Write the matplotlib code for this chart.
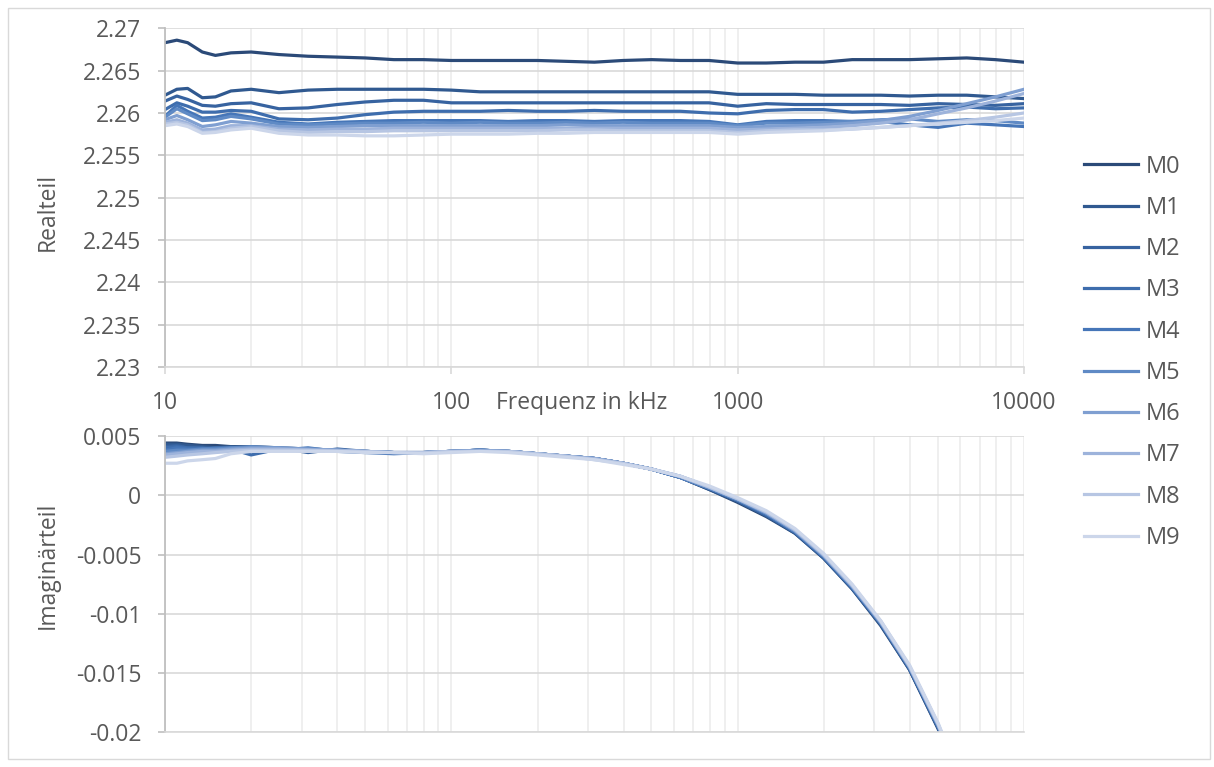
import numpy as np
import matplotlib
matplotlib.use('Agg')
import matplotlib.pyplot as plt
from matplotlib.patches import Rectangle
from matplotlib.ticker import FixedLocator, NullFormatter

plt.rcParams['font.family'] = ['Open Sans', 'DejaVu Sans']
plt.rcParams['axes.unicode_minus'] = False

# frequency points in kHz
freq = [10, 11, 12, 13.5, 15, 17, 20, 25, 31.6, 40, 50, 63, 80, 100, 126, 158, 200,
        251, 316, 398, 501, 631, 794, 1000, 1259, 1585, 1995, 2512, 3162, 3981,
        5012, 6310, 7943, 10000]

names = ['M0', 'M1', 'M2', 'M3', 'M4', 'M5', 'M6', 'M7', 'M8', 'M9']

# real part, one list per measurement
re_m0 = [2.2683, 2.2686, 2.2683, 2.2672, 2.2668, 2.2671, 2.2672, 2.2669, 2.2667, 2.2666, 2.2665, 2.2663,
         2.2663, 2.2662, 2.2662, 2.2662, 2.2662, 2.2661, 2.2660, 2.2662, 2.2663, 2.2662, 2.2662, 2.2659,
         2.2659, 2.2660, 2.2660, 2.2663, 2.2663, 2.2663, 2.2664, 2.2665, 2.2663, 2.2660]
re_m1 = [2.2621, 2.2628, 2.2629, 2.2618, 2.2619, 2.2626, 2.2628, 2.2624, 2.2627, 2.2628, 2.2628, 2.2628,
         2.2628, 2.2627, 2.2625, 2.2625, 2.2625, 2.2625, 2.2625, 2.2625, 2.2625, 2.2625, 2.2625, 2.2622,
         2.2622, 2.2622, 2.2621, 2.2621, 2.2621, 2.2620, 2.2621, 2.2621, 2.2619, 2.2617]
re_m2 = [2.2614, 2.2620, 2.2616, 2.2609, 2.2608, 2.2611, 2.2612, 2.2605, 2.2606, 2.2610, 2.2613, 2.2615,
         2.2615, 2.2612, 2.2612, 2.2612, 2.2612, 2.2612, 2.2612, 2.2612, 2.2612, 2.2612, 2.2612, 2.2608,
         2.2611, 2.2610, 2.2610, 2.2610, 2.2610, 2.2609, 2.2611, 2.2610, 2.2609, 2.2611]
re_m3 = [2.2604, 2.2612, 2.2608, 2.2601, 2.2601, 2.2603, 2.2602, 2.2593, 2.2592, 2.2594, 2.2598, 2.2601,
         2.2602, 2.2602, 2.2602, 2.2603, 2.2602, 2.2602, 2.2603, 2.2602, 2.2602, 2.2602, 2.2600, 2.2599,
         2.2603, 2.2604, 2.2604, 2.2601, 2.2602, 2.2604, 2.2606, 2.2607, 2.2605, 2.2606]
re_m4 = [2.2596, 2.2609, 2.2602, 2.2594, 2.2595, 2.2599, 2.2595, 2.2589, 2.2587, 2.2589, 2.2590, 2.2591,
         2.2591, 2.2591, 2.2591, 2.2590, 2.2591, 2.2591, 2.2590, 2.2591, 2.2591, 2.2591, 2.2590, 2.2586,
         2.2590, 2.2591, 2.2591, 2.2590, 2.2590, 2.2586, 2.2583, 2.2588, 2.2586, 2.2584]
re_m5 = [2.2595, 2.2605, 2.2599, 2.2591, 2.2592, 2.2596, 2.2593, 2.2587, 2.2586, 2.2587, 2.2588, 2.2588,
         2.2589, 2.2588, 2.2589, 2.2588, 2.2588, 2.2589, 2.2588, 2.2589, 2.2588, 2.2588, 2.2588, 2.2585,
         2.2588, 2.2588, 2.2589, 2.2590, 2.2592, 2.2593, 2.2590, 2.2592, 2.2591, 2.2588]
re_m6 = [2.2592, 2.2597, 2.2592, 2.2584, 2.2586, 2.2590, 2.2588, 2.2584, 2.2583, 2.2584, 2.2585, 2.2585,
         2.2585, 2.2585, 2.2585, 2.2585, 2.2585, 2.2586, 2.2585, 2.2585, 2.2585, 2.2585, 2.2585, 2.2583,
         2.2584, 2.2585, 2.2586, 2.2588, 2.2591, 2.2596, 2.2603, 2.2611, 2.2619, 2.2628]
re_m7 = [2.2589, 2.2592, 2.2588, 2.2580, 2.2581, 2.2585, 2.2585, 2.2581, 2.2580, 2.2581, 2.2581, 2.2582,
         2.2582, 2.2582, 2.2582, 2.2582, 2.2582, 2.2582, 2.2582, 2.2582, 2.2582, 2.2582, 2.2582, 2.2580,
         2.2581, 2.2582, 2.2583, 2.2585, 2.2588, 2.2592, 2.2599, 2.2606, 2.2614, 2.2623]
re_m8 = [2.2587, 2.2589, 2.2586, 2.2577, 2.2578, 2.2582, 2.2584, 2.2579, 2.2577, 2.2578, 2.2578, 2.2579,
         2.2579, 2.2579, 2.2579, 2.2579, 2.2579, 2.2580, 2.2580, 2.2579, 2.2579, 2.2579, 2.2579, 2.2577,
         2.2579, 2.2580, 2.2580, 2.2581, 2.2583, 2.2585, 2.2588, 2.2591, 2.2595, 2.2600]
re_m9 = [2.2585, 2.2587, 2.2584, 2.2576, 2.2577, 2.2580, 2.2582, 2.2576, 2.2574, 2.2574, 2.2573, 2.2573,
         2.2574, 2.2575, 2.2575, 2.2575, 2.2576, 2.2576, 2.2577, 2.2577, 2.2577, 2.2577, 2.2577, 2.2575,
         2.2577, 2.2578, 2.2579, 2.2581, 2.2583, 2.2585, 2.2587, 2.2589, 2.2591, 2.2594]

# imaginary part
im_m0 = [0.0044, 0.0044, 0.0043, 0.0042, 0.0042, 0.0041, 0.0041, 0.0040, 0.0039, 0.0038, 0.0037, 0.0036,
         0.0036, 0.0037, 0.0038, 0.0037, 0.0035, 0.0033, 0.0031, 0.0027, 0.0022, 0.0015, 0.0005, -0.0006,
         -0.0018, -0.0032, -0.0053, -0.0079, -0.0110, -0.0147, -0.0197, -0.0257, -0.0322, -0.0397]
im_m1 = [0.0043, 0.0043, 0.0042, 0.0041, 0.0040, 0.0041, 0.0040, 0.0039, 0.0038, 0.0038, 0.0037, 0.0036,
         0.0036, 0.0037, 0.0038, 0.0037, 0.0035, 0.0033, 0.0031, 0.0027, 0.0022, 0.0015, 0.0005, -0.0005,
         -0.0017, -0.0032, -0.0053, -0.0079, -0.0109, -0.0147, -0.0196, -0.0256, -0.0321, -0.0396]
im_m2 = [0.0041, 0.0042, 0.0040, 0.0039, 0.0037, 0.0040, 0.0039, 0.0040, 0.0036, 0.0039, 0.0037, 0.0036,
         0.0036, 0.0037, 0.0038, 0.0037, 0.0035, 0.0033, 0.0031, 0.0027, 0.0022, 0.0015, 0.0006, -0.0005,
         -0.0017, -0.0031, -0.0052, -0.0078, -0.0109, -0.0146, -0.0196, -0.0256, -0.0321, -0.0396]
im_m3 = [0.0040, 0.0041, 0.0040, 0.0040, 0.0039, 0.0039, 0.0034, 0.0039, 0.0038, 0.0038, 0.0037, 0.0036,
         0.0036, 0.0037, 0.0038, 0.0037, 0.0035, 0.0033, 0.0031, 0.0027, 0.0022, 0.0015, 0.0006, -0.0004,
         -0.0016, -0.0031, -0.0052, -0.0078, -0.0108, -0.0146, -0.0195, -0.0255, -0.0320, -0.0395]
im_m4 = [0.0038, 0.0040, 0.0039, 0.0039, 0.0040, 0.0040, 0.0039, 0.0038, 0.0040, 0.0037, 0.0036, 0.0035,
         0.0036, 0.0037, 0.0038, 0.0037, 0.0035, 0.0033, 0.0031, 0.0027, 0.0022, 0.0015, 0.0006, -0.0004,
         -0.0016, -0.0031, -0.0052, -0.0078, -0.0108, -0.0145, -0.0195, -0.0255, -0.0320, -0.0395]
im_m5 = [0.0037, 0.0038, 0.0038, 0.0039, 0.0039, 0.0040, 0.0041, 0.0040, 0.0039, 0.0038, 0.0037, 0.0036,
         0.0036, 0.0037, 0.0038, 0.0037, 0.0035, 0.0033, 0.0031, 0.0027, 0.0022, 0.0015, 0.0006, -0.0004,
         -0.0015, -0.0030, -0.0051, -0.0077, -0.0108, -0.0145, -0.0194, -0.0254, -0.0319, -0.0394]
im_m6 = [0.0035, 0.0036, 0.0037, 0.0038, 0.0038, 0.0039, 0.0040, 0.0040, 0.0039, 0.0038, 0.0037, 0.0036,
         0.0036, 0.0037, 0.0038, 0.0037, 0.0035, 0.0033, 0.0031, 0.0027, 0.0022, 0.0016, 0.0007, -0.0003,
         -0.0015, -0.0030, -0.0051, -0.0077, -0.0107, -0.0145, -0.0194, -0.0254, -0.0319, -0.0394]
im_m7 = [0.0034, 0.0035, 0.0036, 0.0037, 0.0037, 0.0038, 0.0039, 0.0039, 0.0038, 0.0038, 0.0037, 0.0036,
         0.0036, 0.0037, 0.0037, 0.0037, 0.0035, 0.0033, 0.0031, 0.0027, 0.0022, 0.0016, 0.0007, -0.0003,
         -0.0014, -0.0029, -0.0050, -0.0076, -0.0107, -0.0144, -0.0193, -0.0253, -0.0318, -0.0393]
im_m8 = [0.0032, 0.0033, 0.0034, 0.0035, 0.0036, 0.0037, 0.0038, 0.0038, 0.0038, 0.0037, 0.0037, 0.0036,
         0.0036, 0.0037, 0.0037, 0.0037, 0.0035, 0.0033, 0.0030, 0.0027, 0.0022, 0.0016, 0.0007, -0.0003,
         -0.0014, -0.0029, -0.0050, -0.0076, -0.0106, -0.0144, -0.0193, -0.0253, -0.0318, -0.0393]
im_m9 = [0.0027, 0.0027, 0.0029, 0.0030, 0.0031, 0.0035, 0.0037, 0.0037, 0.0037, 0.0037, 0.0036, 0.0036,
         0.0035, 0.0036, 0.0037, 0.0036, 0.0034, 0.0032, 0.0030, 0.0026, 0.0022, 0.0016, 0.0008, -0.0002,
         -0.0013, -0.0028, -0.0049, -0.0075, -0.0106, -0.0143, -0.0192, -0.0252, -0.0317, -0.0392]

real_parts = [re_m0, re_m1, re_m2, re_m3, re_m4, re_m5, re_m6, re_m7, re_m8, re_m9]
imag_parts = [im_m0, im_m1, im_m2, im_m3, im_m4, im_m5, im_m6, im_m7, im_m8, im_m9]

x_ticks = [10, 100, 1000, 10000]
x_labels = ['10', '100', '1000', '10000']
re_ticks = [2.23, 2.235, 2.24, 2.245, 2.25, 2.255, 2.26, 2.265, 2.27]
re_labels = ['2.23', '2.235', '2.24', '2.245', '2.25', '2.255', '2.26', '2.265', '2.27']
im_ticks = [-0.02, -0.015, -0.01, -0.005, 0, 0.005]
im_labels = ['-0.02', '-0.015', '-0.01', '-0.005', '0', '0.005']

colors = ['#2b4a78', '#305990', '#3763a0', '#3e6dad', '#4676b8', '#5f8ac5',
          '#7f9fd1', '#9db3db', '#b7c6e3', '#ccd6ea']

txt_col = '#595959'
grid_major = '#d9d9d9'
grid_minor = '#ececec'
fs = 16.5

fig = plt.figure(figsize=(12.14, 7.67), dpi=100)
fig.patches.append(Rectangle((0.0066, 0.0104), 0.990, 0.979, transform=fig.transFigure,
                             fill=False, edgecolor=grid_major, linewidth=1))

ax1 = fig.add_axes([0.1359, 0.5215, 0.7076, 0.4416])
ax2 = fig.add_axes([0.1359, 0.0450, 0.7076, 0.3866])

minor_pos = [m * d for d in (10, 100, 1000) for m in range(2, 10)]


def style_axis(ax, yticks, ylabels, ylim, show_x):
    ax.set_xscale('log')
    ax.set_xlim(10, 10000)
    ax.set_ylim(*ylim)
    ax.xaxis.set_major_locator(FixedLocator(x_ticks))
    ax.xaxis.set_minor_locator(FixedLocator(minor_pos))
    ax.xaxis.set_minor_formatter(NullFormatter())
    if show_x:
        ax.set_xticklabels(x_labels)
    else:
        ax.set_xticklabels([])
    ax.set_yticks(yticks)
    ax.set_yticklabels(ylabels)
    ax.grid(True, which='major', axis='y', color=grid_major, linewidth=1.2)
    ax.grid(True, which='major', axis='x', color=grid_minor, linewidth=1.2)
    ax.grid(True, which='minor', axis='x', color=grid_minor, linewidth=1.2)
    ax.set_axisbelow(True)
    for s in ('top', 'right'):
        ax.spines[s].set_visible(False)
    ax.spines['left'].set_color('#bfbfbf')
    ax.spines['left'].set_linewidth(1.3)
    ax.spines['bottom'].set_color(grid_major)
    ax.spines['bottom'].set_linewidth(1.2)
    ax.tick_params(axis='y', which='major', length=5, width=1.2, color='#bfbfbf',
                   labelsize=fs, labelcolor=txt_col, pad=12)
    ax.tick_params(axis='x', which='major', length=5 if show_x else 0, width=1.2,
                   color=grid_major, labelsize=fs, labelcolor=txt_col, pad=12)
    ax.tick_params(axis='x', which='minor', length=0)


style_axis(ax1, re_ticks, re_labels, (2.23, 2.27), True)
style_axis(ax2, im_ticks, im_labels, (-0.02, 0.005), False)

for name, col, re_vals, im_vals in zip(names, colors, real_parts, imag_parts):
    ax1.plot(freq, re_vals, color=col, linewidth=2.3, label=name, solid_joinstyle='round')
    ax2.plot(freq, im_vals, color=col, linewidth=2.3, solid_joinstyle='round')

fig.text(0.0395, 0.7236, 'Realteil', rotation=90, ha='center', va='center',
         fontsize=fs, color=txt_col)
fig.text(0.0395, 0.263, 'Imaginärteil', rotation=90, ha='center', va='center',
         fontsize=fs, color=txt_col)
fig.text(0.479, 0.474, 'Frequenz in kHz', ha='center', va='center',
         fontsize=fs, color=txt_col)

leg = fig.legend(loc='upper left', bbox_to_anchor=(0.8755, 0.826), frameon=False,
                 fontsize=17, handlelength=2.3, labelspacing=0.73, handletextpad=0.3)
for t in leg.get_texts():
    t.set_color(txt_col)

plt.savefig('out.png', dpi=100)
